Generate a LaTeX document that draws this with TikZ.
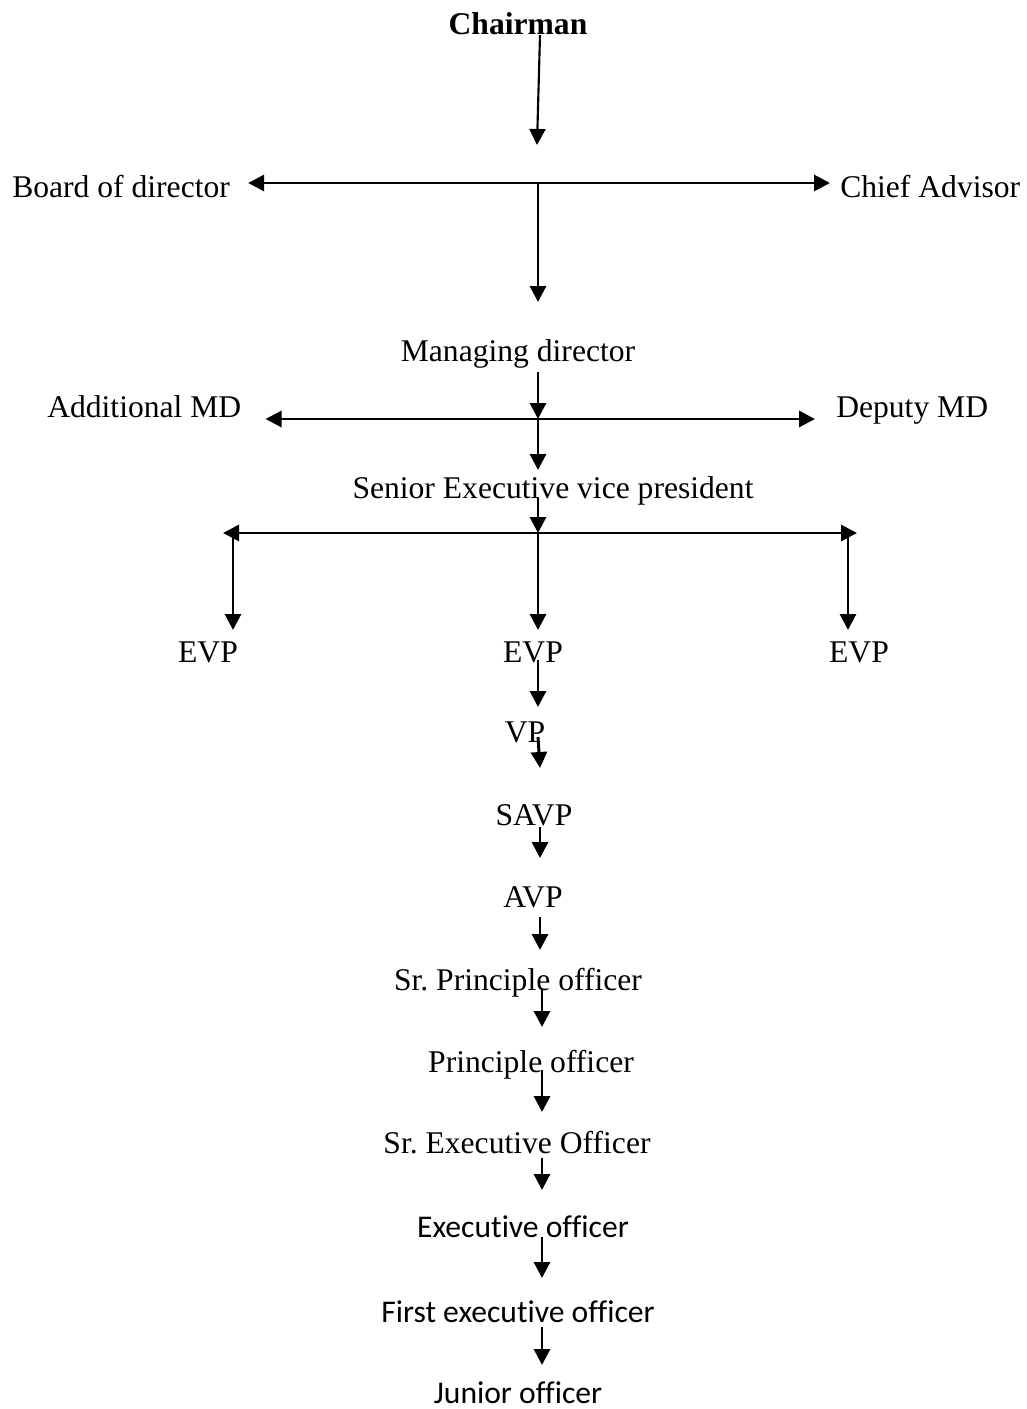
\documentclass[tikz,border=0pt]{standalone}
\usepackage{fontspec}
\setmainfont[Ligatures=NoCommon]{Liberation Serif}
\newfontfamily\calibrifont[Ligatures=NoCommon]{Carlito}
\usetikzlibrary{positioning,arrows.meta,calc}

\begin{document}
\begin{tikzpicture}[
  x=0.75pt, y=-0.75pt,
  rank/.style  = {inner sep=0pt, font=\fontsize{23.7}{28}\selectfont},
  rankb/.style = {inner sep=0pt, font=\fontsize{23.7}{28}\selectfont\bfseries},
  rankc/.style = {inner sep=0pt, font=\fontsize{23.7}{28}\selectfont\calibrifont},
  flow/.style  = {-{Triangle[length=12pt,width=12pt]}, line width=2.2pt},
  both/.style  = {{Triangle[length=12pt,width=12pt]}-{Triangle[length=12pt,width=12pt]}, line width=2.2pt},
]
\useasboundingbox (0,0) rectangle (1027,1409);

% ranks
\node[rankb, anchor=base] (chair) at (518,35) {Chairman};
\node[rank, anchor=base west] (bod) at (12,197) {Board of director};
\node[rank, anchor=base west] (ca) at (840,197) {Chief Advisor};
\node[rank, anchor=base] (md) at (518,361) {Managing director};
\node[rank, anchor=base west] (amd) at (47,417) {Additional MD};
\node[rank, anchor=base west] (dmd) at (836,417) {Deputy MD};
\node[rank, anchor=base] (sevp) at (553,498) {Senior Executive vice president};
\node[rank, anchor=base] (evpa) at (208,662) {EVP};
\node[rank, anchor=base] (evpb) at (533,662) {EVP};
\node[rank, anchor=base] (evpc) at (859,662) {EVP};
\node[rank, anchor=base] (vp) at (525,742) {VP};
\node[rank, anchor=base] (savp) at (534,825) {SAVP};
\node[rank, anchor=base] (avp) at (533,907) {AVP};
\node[rank, anchor=base] (spo) at (518,990) {Sr.\ Principle officer};
\node[rank, anchor=base] (po) at (531,1072) {Principle officer};
\node[rank, anchor=base] (seo) at (517,1153) {Sr.\ Executive Officer};
\node[rankc, anchor=base] (eo) at (523,1237) {Executive officer};
\node[rankc, anchor=base] (feo) at (518,1322) {First executive officer};
\node[rankc, anchor=base] (jo) at (518,1403) {Junior officer};

% junctions and spines
\coordinate (j1) at (538,183);
\coordinate (j2) at (538,419);
\coordinate (j3) at (538,533);
\coordinate (j3l) at (233,533);
\coordinate (j3r) at (848,533);
\coordinate (sp) at (540,0);
\coordinate (sq) at (542,0);

% top
\draw[flow, line width=1.6pt] ($(chair.base)+(22,0)$) -- ($(j1)+(-1,-38)$);
\draw[both] ($(bod.base east)+(18,-14)$) -- ($(ca.base west)+(-10,-14)$);
\draw[flow] (j1) -- ($(md.base -| j1)+(0,-59)$);

% managing director
\draw[flow] ($(md.base -| j2)+(0,11)$) -- (j2);
\draw[both] ($(amd.base east)+(24,2)$) -- ($(dmd.base west)+(-21,2)$);
\draw[flow] (j2) -- ($(sevp.base -| j2)+(0,-28)$);

% senior EVP
\draw[flow] ($(sevp.base -| j3)+(0,-1)$) -- (j3);
\draw[both] ($(j3l)+(-10,0)$) -- ($(j3r)+(9,0)$);
\draw[flow] (j3l) -- ($(evpa.base -| j3l)+(0,-32)$);
\draw[flow] (j3) -- ($(evpb.base -| j3)+(0,-32)$);
\draw[flow] (j3r) -- ($(evpc.base -| j3r)+(0,-32)$);

% chain down
\draw[flow] ($(evpb.base -| j3)+(0,-2)$) -- ($(vp.base -| j3)+(0,-35)$);
\draw[flow] ($(vp.base -| j3)+(0,-5)$) -- ($(savp.base -| sp)+(0,-57)$);
\draw[flow] ($(savp.base -| sp)+(0,2)$) -- ($(avp.base -| sp)+(0,-49)$);
\draw[flow] ($(avp.base -| sp)+(0,10)$) -- ($(spo.base -| sp)+(0,-40)$);
\draw[flow] ($(spo.base -| sq)+(0,0)$) -- ($(po.base -| sq)+(0,-45)$);
\draw[flow] ($(po.base -| sq)+(0,-2)$) -- ($(seo.base -| sq)+(0,-41)$);
\draw[flow] ($(seo.base -| sq)+(0,5)$) -- ($(eo.base -| sq)+(0,-47)$);
\draw[flow] ($(eo.base -| sq)+(0,0)$) -- ($(feo.base -| sq)+(0,-44)$);
\draw[flow] ($(feo.base -| sq)+(0,5)$) -- ($(jo.base -| sq)+(0,-38)$);

\end{tikzpicture}
\end{document}
